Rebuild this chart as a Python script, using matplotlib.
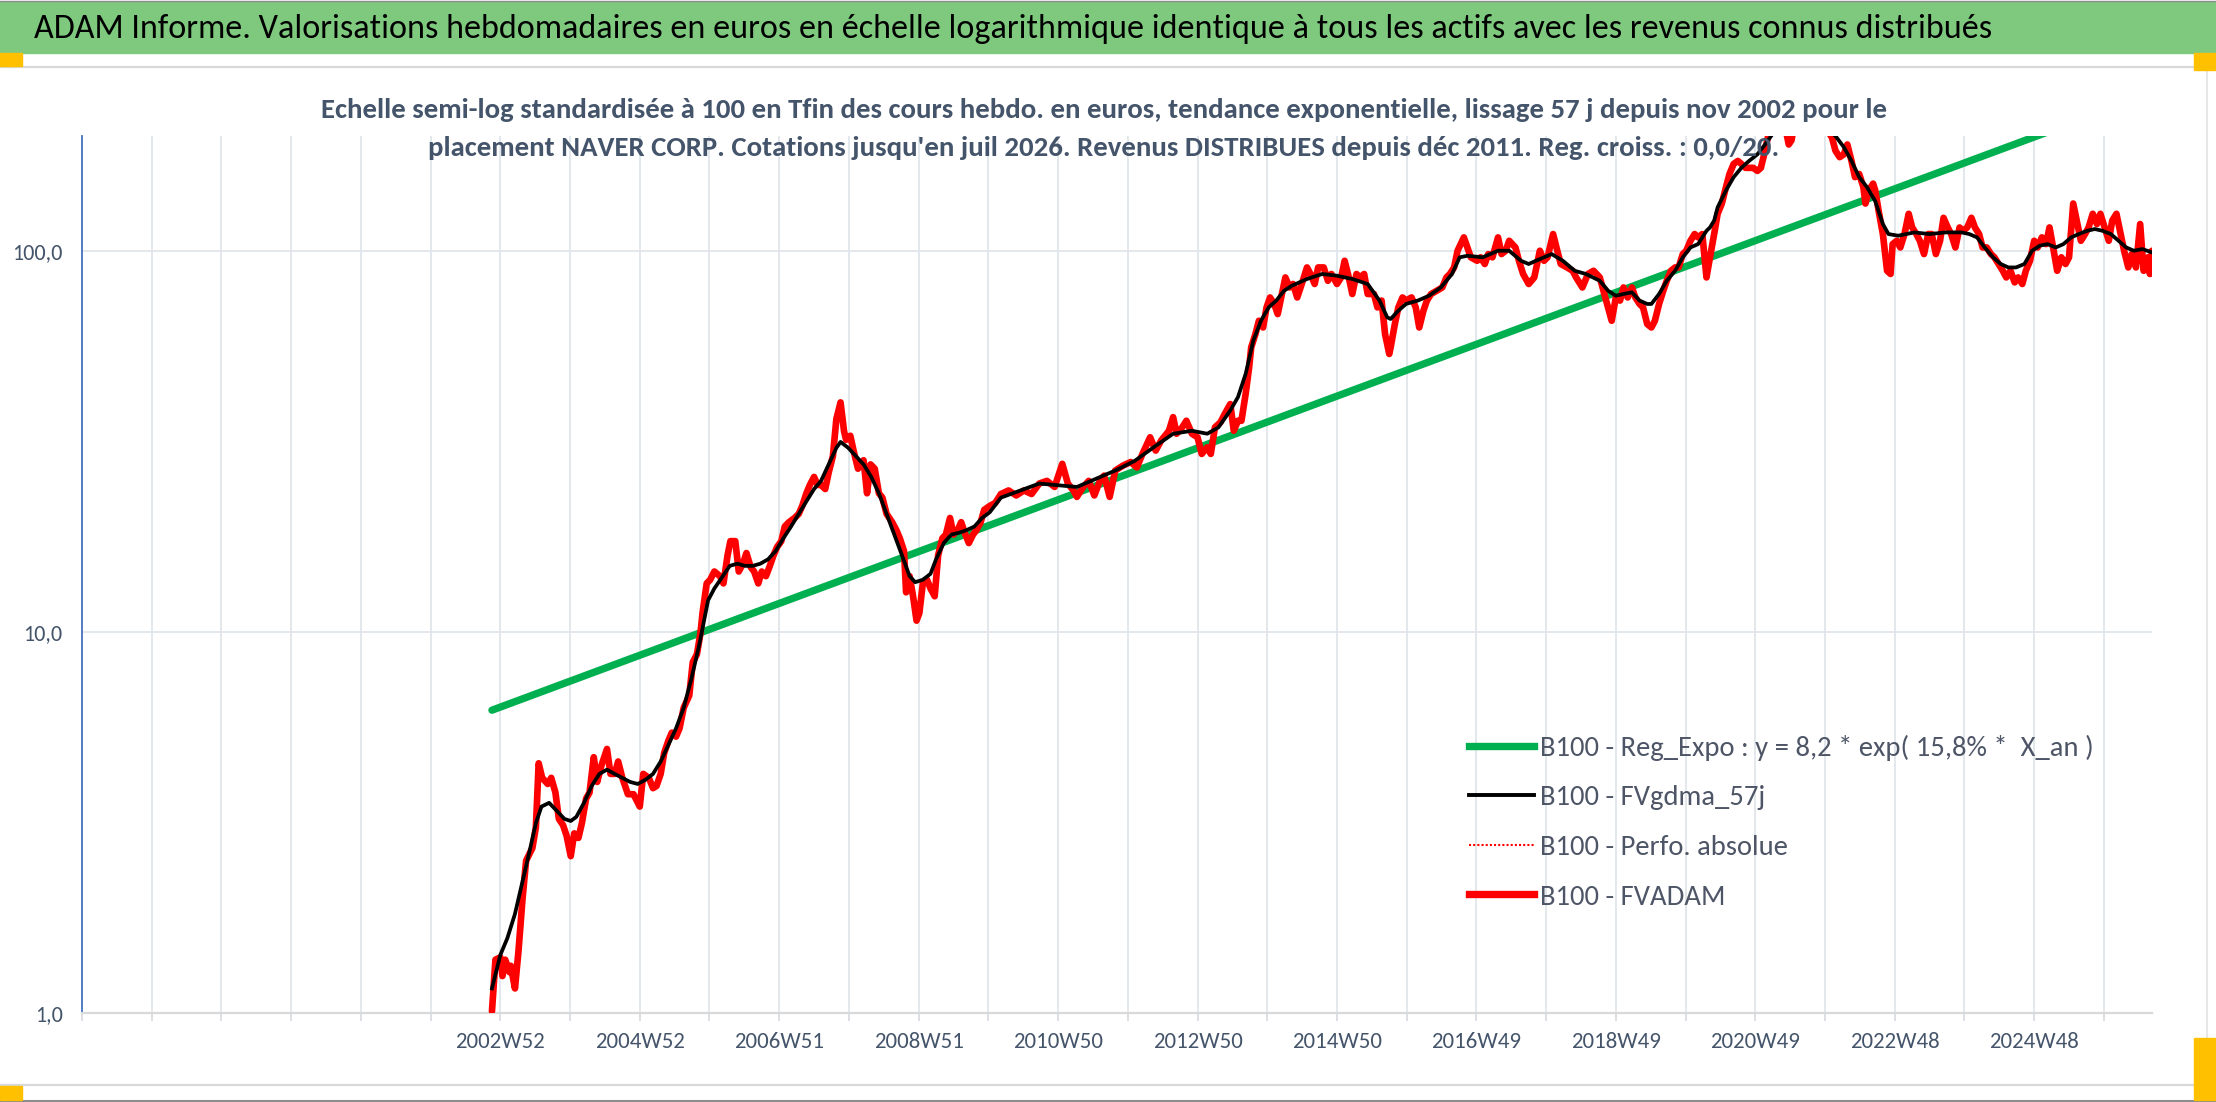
import matplotlib
matplotlib.use('Agg')
import matplotlib.pyplot as plt
from matplotlib import font_manager
from matplotlib.lines import Line2D
from matplotlib.patches import Rectangle
from matplotlib.ticker import NullLocator

W, H, DPI = 2216, 1102, 100

title = ("ADAM Informe. Valorisations hebdomadaires en euros en échelle logarithmique "
         "identique à tous les actifs avec les revenus connus distribués")
sub1 = ("Echelle semi-log standardisée à 100 en Tfin des cours hebdo. en euros, tendance "
        "exponentielle, lissage 57 j depuis nov 2002 pour le")
sub2 = ("placement NAVER CORP. Cotations jusqu'en juil 2026. Revenus DISTRIBUES depuis "
        "déc 2011. Reg. croiss. : 0,0/20.")

legend_labels = ["B100 - Reg_Expo : y = 8,2 * exp( 15,8% *  X_an )",
                 "B100 - FVgdma_57j",
                 "B100 - Perfo. absolue",
                 "B100 - FVADAM"]

# x axis in decimal years, one gridline per year
grid_years = list(range(1997, 2027))
label_years = [2003, 2005, 2007, 2009, 2011, 2013, 2015, 2017, 2019, 2021, 2023, 2025]
label_text = ["2002W52", "2004W52", "2006W51", "2008W51", "2010W50", "2012W50",
              "2014W50", "2016W49", "2018W49", "2020W49", "2022W48", "2024W48"]
y_ticks = [1, 10, 100]
y_labels = ["1,0", "10,0", "100,0"]

# exponential trend (straight in log scale): start and end of the series
reg_years = [2002.88, 2026.69]
reg_vals = [6.23, 259.0]

# FVADAM (weekly valuation, base 100)
fvadam = [
    (2002.88, 1.01), (2002.93, 1.38), (2003.00, 1.40), (2003.03, 1.25), (2003.07, 1.38),
    (2003.13, 1.28), (2003.15, 1.33), (2003.21, 1.16), (2003.26, 1.45), (2003.32, 2.01),
    (2003.37, 2.51), (2003.46, 2.71), (2003.51, 3.07), (2003.55, 4.52), (2003.60, 4.14),
    (2003.68, 3.99), (2003.73, 4.14), (2003.79, 3.79), (2003.84, 3.23), (2003.90, 3.11),
    (2003.95, 2.92), (2004.01, 2.58), (2004.06, 2.96), (2004.12, 2.88), (2004.17, 3.15),
    (2004.23, 3.65), (2004.28, 3.79), (2004.34, 4.69), (2004.39, 4.04), (2004.45, 4.46),
    (2004.53, 4.93), (2004.58, 4.24), (2004.64, 4.24), (2004.69, 4.57), (2004.75, 4.14),
    (2004.83, 3.75), (2004.91, 3.75), (2005.00, 3.48), (2005.05, 4.24), (2005.13, 4.14),
    (2005.19, 3.89), (2005.24, 3.94), (2005.30, 4.24), (2005.35, 4.81), (2005.41, 5.18),
    (2005.46, 5.44), (2005.52, 5.31), (2005.57, 5.58), (2005.63, 6.32), (2005.71, 6.81),
    (2005.76, 8.32), (2005.82, 8.74), (2005.87, 9.90), (2005.90, 11.2), (2005.96, 13.4),
    (2006.01, 13.7), (2006.07, 14.4), (2006.15, 14.0), (2006.20, 13.4), (2006.26, 15.9),
    (2006.30, 17.3), (2006.37, 17.3), (2006.42, 14.4), (2006.48, 15.1), (2006.53, 16.1),
    (2006.59, 14.8), (2006.64, 14.4), (2006.70, 13.4), (2006.75, 14.4), (2006.81, 14.0),
    (2006.86, 14.8), (2006.92, 15.9), (2006.97, 16.7), (2007.03, 17.3), (2007.08, 18.9),
    (2007.14, 19.4), (2007.22, 19.9), (2007.28, 20.4), (2007.33, 21.4), (2007.39, 23.1),
    (2007.44, 24.3), (2007.50, 25.5), (2007.55, 24.3), (2007.60, 24.3), (2007.66, 23.7),
    (2007.71, 26.2), (2007.77, 28.9), (2007.82, 36.2), (2007.88, 40.0), (2007.93, 33.6),
    (2007.96, 31.9), (2008.02, 32.7), (2008.07, 29.7), (2008.13, 26.8), (2008.21, 28.2),
    (2008.26, 23.1), (2008.31, 27.5), (2008.37, 26.8), (2008.43, 23.1), (2008.48, 22.5),
    (2008.54, 20.4), (2008.62, 19.4), (2008.68, 18.5), (2008.73, 17.6), (2008.79, 16.3),
    (2008.82, 12.7), (2008.87, 14.0), (2008.92, 12.4), (2008.97, 10.7), (2009.01, 11.2),
    (2009.06, 13.4), (2009.12, 13.7), (2009.17, 13.0), (2009.23, 12.4), (2009.28, 15.9),
    (2009.34, 17.6), (2009.39, 18.0), (2009.45, 19.9), (2009.50, 18.0), (2009.56, 18.5),
    (2009.61, 19.4), (2009.67, 18.0), (2009.72, 17.1), (2009.78, 18.0), (2009.83, 18.5),
    (2009.89, 19.4), (2009.94, 20.9), (2010.02, 21.4), (2010.10, 21.8), (2010.18, 23.0),
    (2010.29, 23.5), (2010.40, 22.8), (2010.51, 23.5), (2010.62, 23.0), (2010.73, 24.5),
    (2010.84, 24.9), (2010.95, 24.0), (2011.06, 27.6), (2011.14, 24.5), (2011.22, 23.5),
    (2011.27, 22.6), (2011.36, 24.0), (2011.44, 24.9), (2011.52, 22.8), (2011.60, 24.9),
    (2011.66, 25.7), (2011.74, 22.6), (2011.82, 26.5), (2011.93, 27.3), (2012.04, 27.9),
    (2012.13, 27.0), (2012.21, 29.3), (2012.32, 32.4), (2012.40, 29.9), (2012.48, 31.8),
    (2012.59, 33.7), (2012.65, 36.6), (2012.70, 33.1), (2012.78, 34.4), (2012.84, 35.8),
    (2012.92, 33.1), (2013.00, 32.4), (2013.06, 29.3), (2013.14, 30.5), (2013.19, 29.3),
    (2013.25, 34.4), (2013.33, 35.5), (2013.39, 37.3), (2013.47, 39.6), (2013.52, 33.7),
    (2013.58, 35.8), (2013.63, 35.8), (2013.69, 42.1), (2013.74, 49.4), (2013.77, 55.8),
    (2013.83, 60.4), (2013.88, 65.5), (2013.94, 62.9), (2013.99, 71.0), (2014.04, 75.4),
    (2014.10, 72.5), (2014.15, 68.2), (2014.21, 77.0), (2014.26, 85.1), (2014.32, 80.1),
    (2014.37, 81.8), (2014.43, 75.4), (2014.51, 83.4), (2014.57, 90.4), (2014.62, 86.9),
    (2014.68, 81.8), (2014.73, 90.4), (2014.81, 90.4), (2014.87, 83.4), (2014.92, 86.9),
    (2015.00, 81.8), (2015.06, 85.1), (2015.11, 94.1), (2015.17, 85.1), (2015.22, 77.0),
    (2015.28, 86.9), (2015.33, 85.1), (2015.39, 86.9), (2015.44, 77.0), (2015.53, 77.0),
    (2015.58, 71.0), (2015.64, 74.0), (2015.69, 60.4), (2015.75, 53.6), (2015.77, 55.8),
    (2015.83, 64.2), (2015.88, 71.0), (2015.94, 75.4), (2015.99, 74.0), (2016.07, 75.4),
    (2016.13, 71.0), (2016.18, 62.9), (2016.24, 69.6), (2016.29, 74.0), (2016.35, 77.0),
    (2016.43, 78.5), (2016.51, 80.1), (2016.57, 85.1), (2016.62, 86.9), (2016.68, 90.4),
    (2016.73, 100.0), (2016.82, 108.4), (2016.87, 102.0), (2016.92, 96.1), (2017.01, 94.1),
    (2017.06, 96.1), (2017.12, 92.3), (2017.17, 98.0), (2017.23, 96.1), (2017.31, 108.4),
    (2017.36, 98.0), (2017.42, 100.0), (2017.47, 106.2), (2017.56, 102.0), (2017.61, 94.1),
    (2017.67, 86.9), (2017.75, 81.8), (2017.83, 85.1), (2017.91, 100.0), (2017.97, 94.1),
    (2018.02, 96.1), (2018.10, 110.6), (2018.16, 100.0), (2018.21, 92.3), (2018.30, 90.4),
    (2018.38, 88.6), (2018.43, 85.1), (2018.52, 80.1), (2018.60, 86.9), (2018.68, 88.6),
    (2018.77, 85.1), (2018.86, 74.0), (2018.94, 65.5), (2019.00, 75.4), (2019.06, 74.0),
    (2019.11, 80.1), (2019.17, 75.4), (2019.23, 80.1), (2019.28, 75.4), (2019.34, 72.5),
    (2019.39, 71.0), (2019.45, 64.2), (2019.51, 62.9), (2019.56, 65.5), (2019.62, 72.5),
    (2019.68, 78.5), (2019.73, 83.4), (2019.79, 88.6), (2019.85, 90.4), (2019.90, 90.4),
    (2019.96, 98.0), (2020.01, 100.0), (2020.07, 106.2), (2020.13, 110.6), (2020.18, 108.4),
    (2020.24, 110.6), (2020.30, 85.1), (2020.35, 96.1), (2020.41, 110.6), (2020.46, 125.0),
    (2020.52, 133.0), (2020.58, 147.0), (2020.63, 159.0), (2020.69, 169.0), (2020.75, 172.0),
    (2020.80, 169.0), (2020.86, 165.0), (2020.91, 165.0), (2020.97, 165.0), (2021.03, 162.0),
    (2021.08, 165.0), (2021.14, 183.0), (2021.20, 206.0), (2021.25, 228.0), (2021.34, 240.0),
    (2021.42, 215.0), (2021.48, 190.0), (2021.52, 195.0), (2021.56, 215.0), (2021.65, 240.0),
    (2021.76, 250.0), (2021.87, 235.0), (2021.98, 215.0), (2022.10, 198.0), (2022.15, 183.0),
    (2022.21, 176.0), (2022.27, 179.0), (2022.32, 190.0), (2022.38, 172.0), (2022.43, 156.0),
    (2022.49, 159.0), (2022.55, 147.0), (2022.58, 133.0), (2022.63, 144.0), (2022.69, 150.0),
    (2022.72, 144.0), (2022.77, 127.0), (2022.83, 110.6), (2022.89, 88.6), (2022.94, 86.9),
    (2022.97, 104.1), (2023.03, 106.2), (2023.08, 102.0), (2023.14, 110.6), (2023.20, 125.0),
    (2023.25, 115.1), (2023.31, 110.6), (2023.36, 106.2), (2023.42, 98.0), (2023.48, 110.6),
    (2023.53, 110.6), (2023.59, 98.0), (2023.65, 106.2), (2023.70, 122.0), (2023.76, 115.1),
    (2023.81, 110.6), (2023.87, 102.0), (2023.93, 115.1), (2023.98, 112.8), (2024.04, 115.1),
    (2024.10, 122.0), (2024.15, 115.1), (2024.21, 110.6), (2024.26, 102.0), (2024.32, 102.0),
    (2024.38, 98.0), (2024.43, 96.1), (2024.49, 92.3), (2024.55, 88.6), (2024.60, 85.1),
    (2024.66, 88.6), (2024.72, 82.6), (2024.77, 85.1), (2024.83, 81.8), (2024.88, 88.6),
    (2024.94, 94.1), (2025.00, 106.2), (2025.05, 102.0), (2025.11, 108.4), (2025.17, 104.1),
    (2025.22, 115.1), (2025.28, 100.0), (2025.33, 88.6), (2025.39, 96.1), (2025.45, 92.3),
    (2025.50, 96.1), (2025.56, 133.0), (2025.62, 117.5), (2025.67, 106.2), (2025.73, 110.6),
    (2025.78, 115.1), (2025.84, 125.0), (2025.90, 117.5), (2025.95, 125.0), (2026.01, 115.1),
    (2026.07, 106.2), (2026.12, 120.0), (2026.18, 125.0), (2026.24, 110.6), (2026.29, 100.0),
    (2026.35, 90.4), (2026.40, 98.0), (2026.46, 90.4), (2026.52, 117.5), (2026.57, 88.6),
    (2026.63, 96.1), (2026.66, 86.9), (2026.69, 100.0),
]

# FVgdma_57j (smoothed valuation)
fvgdma = [
    (2002.88, 1.16), (2003.00, 1.42), (2003.10, 1.57), (2003.21, 1.82), (2003.32, 2.22),
    (2003.43, 2.71), (2003.51, 3.15), (2003.59, 3.48), (2003.70, 3.56), (2003.81, 3.39),
    (2003.92, 3.23), (2004.01, 3.19), (2004.09, 3.27), (2004.20, 3.56), (2004.31, 3.94),
    (2004.42, 4.24), (2004.53, 4.35), (2004.64, 4.24), (2004.75, 4.14), (2004.86, 4.04),
    (2004.97, 3.99), (2005.08, 4.09), (2005.19, 4.24), (2005.30, 4.57), (2005.41, 5.05),
    (2005.52, 5.58), (2005.63, 6.32), (2005.74, 7.53), (2005.85, 9.19), (2005.93, 10.9),
    (2005.98, 12.1), (2006.07, 13.0), (2006.18, 13.9), (2006.29, 14.9), (2006.40, 15.1),
    (2006.51, 14.9), (2006.62, 14.9), (2006.73, 15.1), (2006.84, 15.5), (2006.95, 16.3),
    (2007.06, 17.6), (2007.17, 18.9), (2007.28, 20.4), (2007.39, 22.0), (2007.50, 23.7),
    (2007.60, 24.9), (2007.71, 27.5), (2007.82, 30.4), (2007.88, 31.5), (2007.99, 30.4),
    (2008.10, 28.9), (2008.21, 27.5), (2008.32, 25.5), (2008.43, 23.1), (2008.54, 20.4),
    (2008.65, 18.0), (2008.76, 15.9), (2008.87, 14.0), (2008.95, 13.5), (2009.06, 13.7),
    (2009.17, 14.2), (2009.25, 15.5), (2009.36, 17.1), (2009.47, 18.0), (2009.58, 18.2),
    (2009.69, 18.5), (2009.80, 18.9), (2009.91, 19.9), (2010.02, 20.6), (2010.18, 22.5),
    (2010.73, 24.5), (2011.27, 24.0), (2011.82, 26.5), (2012.10, 28.1), (2012.37, 30.5),
    (2012.65, 33.1), (2012.92, 33.7), (2013.14, 33.1), (2013.30, 34.4), (2013.47, 38.1),
    (2013.58, 41.3), (2013.69, 47.5), (2013.80, 58.1), (2013.91, 65.5), (2014.02, 71.0),
    (2014.13, 74.0), (2014.24, 78.5), (2014.35, 80.9), (2014.46, 82.6), (2014.57, 84.3),
    (2014.79, 86.9), (2015.00, 86.0), (2015.22, 84.3), (2015.44, 81.8), (2015.61, 74.0),
    (2015.72, 66.9), (2015.77, 66.2), (2015.88, 69.6), (2015.99, 72.5), (2016.16, 74.0),
    (2016.32, 76.2), (2016.49, 80.1), (2016.65, 86.9), (2016.76, 96.1), (2016.87, 97.0),
    (2017.09, 96.1), (2017.31, 100.0), (2017.47, 100.0), (2017.64, 94.1), (2017.75, 92.3),
    (2017.91, 95.1), (2018.08, 98.0), (2018.24, 94.1), (2018.41, 88.6), (2018.57, 86.9),
    (2018.77, 83.4), (2018.89, 78.5), (2019.00, 76.2), (2019.11, 77.0), (2019.23, 77.8),
    (2019.34, 74.0), (2019.45, 72.5), (2019.51, 72.5), (2019.62, 77.0), (2019.73, 83.4),
    (2019.85, 88.6), (2019.96, 96.1), (2020.07, 102.0), (2020.18, 104.1), (2020.24, 108.4),
    (2020.30, 112.8), (2020.35, 115.1), (2020.41, 120.0), (2020.46, 130.0), (2020.58, 144.0),
    (2020.69, 156.0), (2020.80, 165.0), (2020.91, 172.0), (2021.03, 179.0), (2021.14, 190.0),
    (2021.31, 210.0), (2021.59, 225.0), (2021.87, 220.0), (2022.15, 200.0), (2022.27, 187.0),
    (2022.38, 172.0), (2022.49, 156.0), (2022.60, 147.0), (2022.72, 135.0), (2022.83, 117.5),
    (2022.91, 110.6), (2023.05, 109.5), (2023.28, 111.7), (2023.50, 110.6), (2023.73, 111.7),
    (2023.96, 111.7), (2024.07, 110.6), (2024.18, 108.4), (2024.29, 102.0), (2024.41, 96.1),
    (2024.52, 92.3), (2024.63, 90.4), (2024.74, 90.4), (2024.86, 92.3), (2024.97, 100.0),
    (2025.08, 103.1), (2025.19, 104.1), (2025.31, 102.0), (2025.42, 104.1), (2025.53, 108.4),
    (2025.64, 110.6), (2025.76, 112.8), (2025.87, 114.0), (2025.98, 112.8), (2026.10, 110.6),
    (2026.21, 106.2), (2026.32, 102.0), (2026.43, 100.0), (2026.55, 101.0), (2026.69, 99.0),
]


def pick_narrow():
    have = {(f.name, str(f.stretch)) for f in font_manager.fontManager.ttflist}
    names = {n for n, s in have}
    for n in ["Carlito", "Liberation Sans Narrow", "Roboto Condensed", "Open Sans Condensed",
              "Noto Sans Condensed"]:
        if n in names:
            return dict(family=n)
    for n in ["DejaVu Sans", "Roboto", "Noto Sans", "Open Sans"]:
        for s in ["condensed", "semi-condensed"]:
            if (n, s) in have:
                return dict(family=n, stretch=s)
    return dict(family="Liberation Sans")


NARROW = pick_narrow()
SLATE = "#44546A"
GRID = "#e1e6ec"


def fx(px):
    return px / W


def fy(py):
    return 1 - py / H


fig = plt.figure(figsize=(W / DPI, H / DPI), dpi=DPI)
fig.patch.set_facecolor("white")
renderer = fig.canvas.get_renderer()


def size_for(text, target_px, weight="normal", base=20.0):
    t = fig.text(0, 0, text, fontsize=base, weight=weight, **NARROW)
    w = t.get_window_extent(renderer).width
    h = t.get_window_extent(renderer).height
    t.remove()
    return base * target_px / w, h * target_px / w


# frame of the excel chart
fig.add_artist(Rectangle((0, fy(53)), 1, 51 / H, transform=fig.transFigure,
                         color="#7fc97f", zorder=0))
fig.add_artist(Line2D([0, 1], [fy(0.5)] * 2, color="#8c8c8c", lw=1))
fig.add_artist(Line2D([0, 1], [fy(1101)] * 2, color="#8c8c8c", lw=1.5))
fig.add_artist(Line2D([0, fx(2207)], [fy(67)] * 2, color="#d9d9d9", lw=1.6))
fig.add_artist(Line2D([0, fx(2207)], [fy(1085)] * 2, color="#d9d9d9", lw=1.6))
fig.add_artist(Line2D([fx(2207)] * 2, [fy(67), fy(1085)], color="#e3e3e3", lw=1.2))
for x0, y0, x1, y1 in [(0, 53, 22, 66), (0, 1086, 22, 1100),
                       (2194, 53, 2216, 70), (2194, 1038, 2216, 1100)]:
    fig.add_artist(Rectangle((fx(x0), fy(y1)), (x1 - x0) / W, (y1 - y0) / H,
                             transform=fig.transFigure, color="#FFC000", zorder=5))

fs_title, _ = size_for(title, 1954)
fig.text(fx(34), fy(29), title, ha="left", va="center", fontsize=fs_title,
         color="black", **NARROW)
fs_sub, _ = size_for(sub1, 1561, weight="bold")
fig.text(fx(1104), fy(110), sub1, ha="center", va="center", fontsize=fs_sub,
         weight="bold", color=SLATE, **NARROW)
fig.text(fx(1104), fy(148), sub2, ha="center", va="center", fontsize=fs_sub,
         weight="bold", color=SLATE, **NARROW)

ax = fig.add_axes([fx(82), fy(1013), (2152 - 82) / W, (1013 - 136) / H])
ax.set_facecolor("white")

ra_x = [p[0] for p in fvadam]
ra_y = [p[1] for p in fvadam]
sm_x = [p[0] for p in fvgdma]
sm_y = [p[1] for p in fvgdma]

ax.plot(reg_years, reg_vals, color="#00B050", lw=5.3, solid_capstyle="round", zorder=2)
ax.plot(ra_x, ra_y, color="red", lw=1.5, ls=(0, (1, 1)), zorder=2.5)
ax.plot(ra_x, ra_y, color="#FF0000", lw=4.8, solid_joinstyle="round",
        solid_capstyle="round", zorder=3)
ax.plot(sm_x, sm_y, color="black", lw=2.7, solid_joinstyle="round", zorder=4)

ax.set_yscale("log")
ax.set_ylim(1, 200)
ax.set_xlim(1997, 2026.69)
ax.yaxis.set_minor_locator(NullLocator())
ax.xaxis.set_minor_locator(NullLocator())
ax.grid(True, color=GRID, lw=1.3)
ax.set_axisbelow(True)

for s in ["top", "right"]:
    ax.spines[s].set_visible(False)
ax.spines["left"].set_color("#4472C4")
ax.spines["left"].set_linewidth(1.3)
ax.spines["bottom"].set_color("#d9d9d9")
ax.spines["bottom"].set_linewidth(1.6)

fs_x, _ = size_for("2002W52", 90)
fs_y, _ = size_for("10,0", 39)
xlabels = [label_text[label_years.index(y)] if y in label_years else "" for y in grid_years]
ax.set_xticks(grid_years)
ax.set_xticklabels(xlabels, fontsize=fs_x, color=SLATE, **NARROW)
ax.set_yticks(y_ticks)
ax.set_yticklabels(y_labels, fontsize=fs_y, color=SLATE, **NARROW)
ax.tick_params(axis="x", length=5.8, width=1.3, color="#d9dde3", pad=8)
ax.tick_params(axis="y", length=0, pad=14)

# legend
fs_leg, h_leg = size_for(legend_labels[0], 554)
F = fs_leg * DPI / 72
handles = [Line2D([], [], color="#00B050", lw=5.3),
           Line2D([], [], color="black", lw=2.8),
           Line2D([], [], color="red", lw=1.5, ls=(0, (1, 1))),
           Line2D([], [], color="red", lw=5.3)]
leg = ax.legend(handles, legend_labels, loc="upper left",
                bbox_to_anchor=(fx(1469), fy(748 - h_leg / 2)),
                bbox_transform=fig.transFigure, frameon=False,
                prop=dict(size=fs_leg, **NARROW), labelcolor="#4d5566",
                handlelength=65 / F, handletextpad=6 / F,
                labelspacing=(51.5 - h_leg) / F, borderpad=0, borderaxespad=0)

fig.savefig("out.png", dpi=DPI)
